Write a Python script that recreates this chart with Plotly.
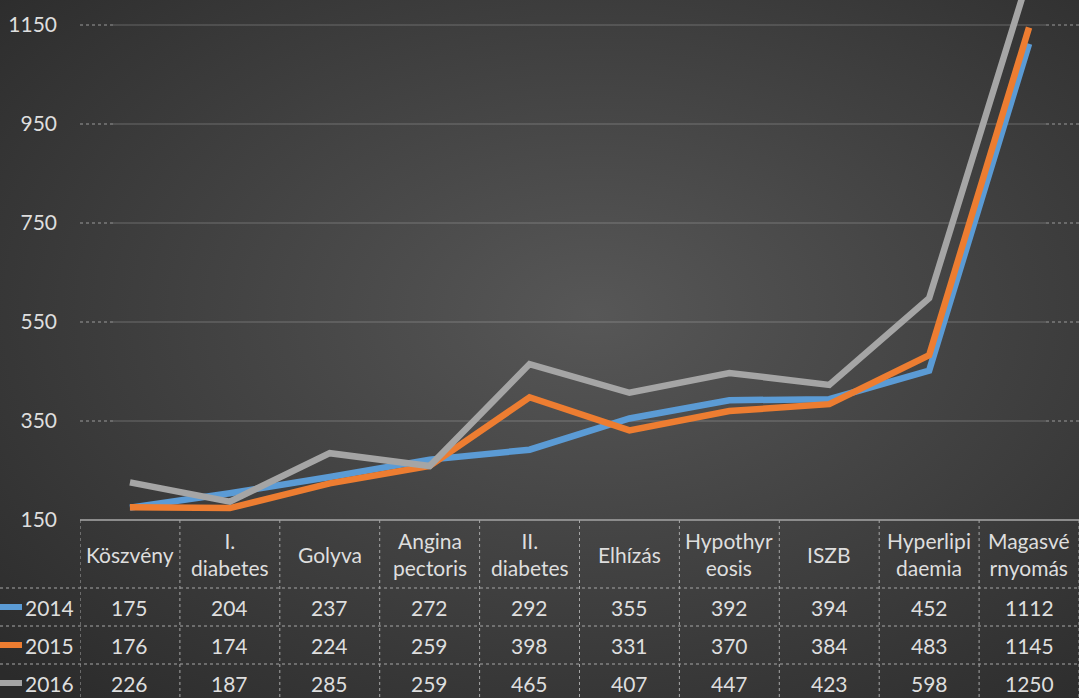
import base64

import plotly.graph_objects as go

categories = ["Köszvény", "I. diabetes", "Golyva", "Angina pectoris", "II. diabetes",
              "Elhízás", "Hypothyreosis", "ISZB", "Hyperlipidaemia", "Magasvérnyomás"]
# header text as it wraps in the data table
header_labels = ["Köszvény", "I.<br>diabetes", "Golyva", "Angina<br>pectoris", "II.<br>diabetes",
                 "Elhízás", "Hypothyr<br>eosis", "ISZB", "Hyperlipi<br>daemia", "Magasvé<br>rnyomás"]
years = ["2014", "2015", "2016"]
values_2014 = [175, 204, 237, 272, 292, 355, 392, 394, 452, 1112]
values_2015 = [176, 174, 224, 259, 398, 331, 370, 384, 483, 1145]
values_2016 = [226, 187, 285, 259, 465, 407, 447, 423, 598, 1250]
y_ticks = [150, 350, 550, 750, 950, 1150]

series = [values_2014, values_2015, values_2016]
colors = ["#5B9BD5", "#ED7D31", "#A5A5A5"]

W, H = 1079, 698
L, B = 80, 178
PW, PH = W - L, H - B
TXT = "#dedede"
FONT = "Lato"
FS = 21


def py(pix):
    """pixel row -> paper y"""
    return (PH - pix) / PH


def px(pix):
    """pixel column -> paper x"""
    return (pix - L) / PW


bg_svg = f"""<svg xmlns='http://www.w3.org/2000/svg' width='{W}' height='{H}'>
<defs><radialGradient id='g' cx='0.55' cy='0.45' r='0.75'>
<stop offset='0' stop-color='#575757'/><stop offset='1' stop-color='#2b2b2b'/>
</radialGradient></defs><rect width='{W}' height='{H}' fill='url(#g)'/></svg>"""
bg_src = "data:image/svg+xml;base64," + base64.b64encode(bg_svg.encode()).decode()

fig = go.Figure()

for year, vals, col in zip(years, series, colors):
    fig.add_trace(go.Scatter(x=categories, y=vals, mode="lines", name=year,
                             line=dict(color=col, width=6.5), hoverinfo="x+y"))

shapes = []
# gridlines: dotted ends, solid middle (Excel style)
for t in y_ticks[1:]:
    shapes.append(dict(type="line", xref="paper", yref="y", x0=0, x1=px(113), y0=t, y1=t,
                       line=dict(color="#9a9a9a", width=1, dash="dot"), layer="below"))
    shapes.append(dict(type="line", xref="paper", yref="y", x0=px(113), x1=px(1046), y0=t, y1=t,
                       line=dict(color="rgba(255,255,255,0.12)", width=2), layer="below"))
    shapes.append(dict(type="line", xref="paper", yref="y", x0=px(1046), x1=1, y0=t, y1=t,
                       line=dict(color="#9a9a9a", width=1, dash="dot"), layer="below"))

# data table grid
tline = dict(color="#a6a6a6", width=1, dash="dot")
shapes.append(dict(type="line", xref="paper", yref="paper", x0=0, x1=1, y0=py(520), y1=py(520),
                   line=dict(color="#8c8c8c", width=2)))
for rowpix in [588, 626, 664]:
    shapes.append(dict(type="line", xref="paper", yref="paper", x0=px(0), x1=1,
                       y0=py(rowpix), y1=py(rowpix), line=tline))
for i in range(len(categories) + 1):
    shapes.append(dict(type="line", xref="x", yref="paper", x0=i - 0.5, x1=i - 0.5,
                       y0=py(520), y1=py(H), line=tline))

annotations = []
for cat, lab in zip(categories, header_labels):
    annotations.append(dict(x=cat, y=py(554), xref="x", yref="paper", text=lab, showarrow=False,
                            yanchor="middle", xanchor="center",
                            font=dict(size=FS, color=TXT, family=FONT), align="center"))

row_pix = [607, 645, 683]
for year, vals, col, rp in zip(years, series, colors, row_pix):
    shapes.append(dict(type="line", xref="paper", yref="paper", x0=px(0), x1=px(22),
                       y0=py(rp), y1=py(rp), line=dict(color=col, width=6)))
    annotations.append(dict(x=px(23), y=py(rp), xref="paper", yref="paper", text=year,
                            showarrow=False, xanchor="left", yanchor="middle",
                            font=dict(size=FS, color=TXT, family=FONT)))
    for cat, v in zip(categories, vals):
        annotations.append(dict(x=cat, y=py(rp), xref="x", yref="paper", text=str(v),
                                showarrow=False, yanchor="middle", xanchor="center",
                                font=dict(size=FS, color=TXT, family=FONT)))

fig.update_layout(
    width=W,
    height=H,
    margin=dict(l=L, r=0, t=0, b=B, pad=0),
    paper_bgcolor="#3f3f3f",
    plot_bgcolor="rgba(0,0,0,0)",
    showlegend=False,
    font=dict(family=FONT, color=TXT, size=FS),
    images=[dict(source=bg_src, xref="paper", yref="paper", x=px(0), y=1,
                 sizex=W / PW, sizey=H / PH, xanchor="left", yanchor="top",
                 sizing="stretch", layer="below")],
    shapes=shapes,
    annotations=annotations,
    xaxis=dict(type="category", range=[-0.5, len(categories) - 0.5], showgrid=False,
               showticklabels=False, zeroline=False, showline=False, fixedrange=True),
    yaxis=dict(range=[150, 1200.5], tickvals=y_ticks, showgrid=False, zeroline=False,
               showline=False, ticks="", ticklabelstandoff=22,
               tickfont=dict(size=FS, color=TXT, family=FONT), fixedrange=True),
)

fig.write_html("out.html", config={"displayModeBar": False},
               post_script="document.body.style.margin='0';")
